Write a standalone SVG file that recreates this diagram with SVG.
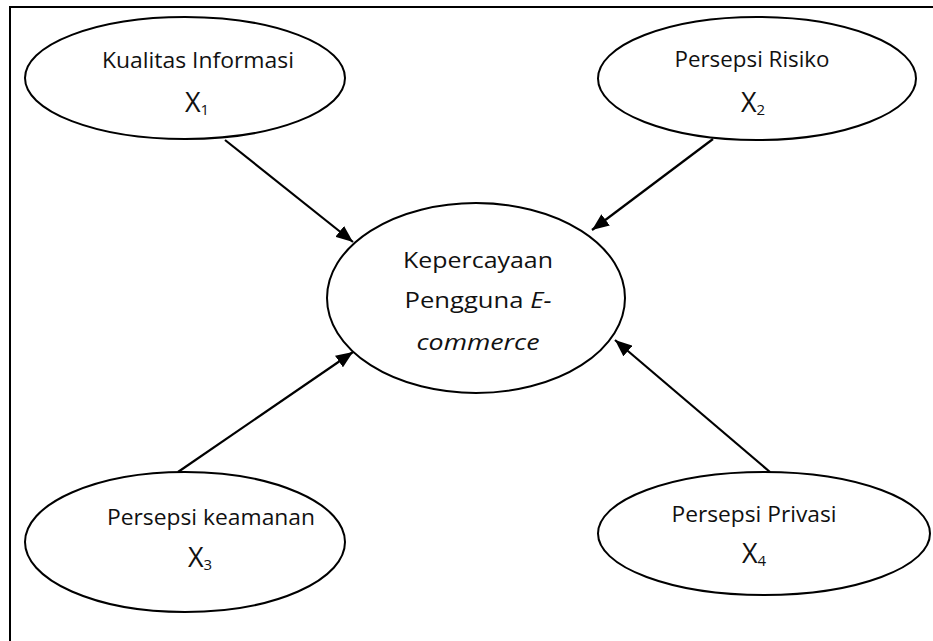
<svg xmlns="http://www.w3.org/2000/svg" width="933" height="641" viewBox="0 0 933 641">
<defs>
<marker id="arr" markerUnits="userSpaceOnUse" markerWidth="18" markerHeight="14" refX="17" refY="7" orient="auto">
<path d="M0,0 L17,7 L0,14 z" fill="#000"/>
</marker>
<style>
.n ellipse{fill:#fff;stroke:#000;stroke-width:2}
text{font-family:"Open Sans","Liberation Sans",Arial,sans-serif;font-size:22px;fill:#111;text-anchor:middle}
.x{font-size:27px}
.sub{font-size:15px}
.c line{stroke:#000;stroke-width:2.2;marker-end:url(#arr)}
</style>
</defs>
<rect width="933" height="641" fill="#fff"/>
<path d="M10,641 V7 H933" fill="none" stroke="#000" stroke-width="2"/>
<g id="n1" class="n">
<ellipse cx="185" cy="78" rx="160" ry="61"/>
<text x="198" y="68" textLength="192" lengthAdjust="spacingAndGlyphs">Kualitas Informasi</text>
<text class="x" x="197" y="112">X<tspan class="sub" dy="3">1</tspan></text>
</g>
<g id="n2" class="n">
<ellipse cx="757" cy="78.5" rx="159" ry="61.5"/>
<text x="752" y="67" textLength="155" lengthAdjust="spacingAndGlyphs">Persepsi Risiko</text>
<text class="x" x="753" y="112">X<tspan class="sub" dy="3">2</tspan></text>
</g>
<g id="n0" class="n">
<ellipse cx="476" cy="298" rx="149" ry="95"/>
<text x="478" y="268" textLength="150" lengthAdjust="spacingAndGlyphs">Kepercayaan</text>
<text x="478" y="308" textLength="147" lengthAdjust="spacingAndGlyphs">Pengguna <tspan font-style="italic">E-</tspan></text>
<text x="478" y="350" font-style="italic" textLength="123" lengthAdjust="spacingAndGlyphs">commerce</text>
</g>
<g id="n3" class="n">
<ellipse cx="185" cy="542" rx="160" ry="70"/>
<text x="211" y="525" textLength="208" lengthAdjust="spacingAndGlyphs">Persepsi keamanan</text>
<text class="x" x="200" y="567">X<tspan class="sub" dy="3">3</tspan></text>
</g>
<g id="n4" class="n">
<ellipse cx="764" cy="533.5" rx="166" ry="61.5"/>
<text x="754" y="522" textLength="165" lengthAdjust="spacingAndGlyphs">Persepsi Privasi</text>
<text class="x" x="754" y="563">X<tspan class="sub" dy="3">4</tspan></text>
</g>
<g id="connectors" class="c">
<line x1="225" y1="140" x2="353" y2="242"/>
<line x1="713" y1="139" x2="592" y2="230"/>
<line x1="178" y1="472" x2="353" y2="352"/>
<line x1="770" y1="472" x2="615" y2="340"/>
</g>
</svg>
